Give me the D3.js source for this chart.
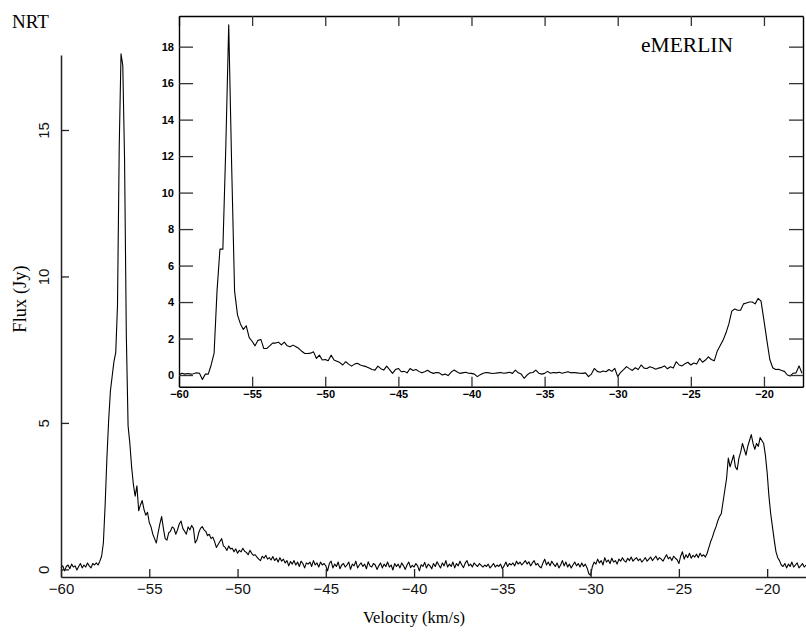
<!DOCTYPE html>
<html>
<head>
<meta charset="utf-8">
<script src="https://cdn.jsdelivr.net/npm/d3@7"></script>
<style>
  body { margin: 0; background: #fff; }
  svg { display: block; }
</style>
</head>
<body>
<div id="chart"></div>
<script>
// NRT spectrum: channels every 0.1 km/s starting at -60.0
const nrtStart = -60.0, nrtStep = 0.1;
const nrtFlux = [
  0.05,0.12,-0.05,0.10,0.15,0.02,0.18,0.08,0.12,-0.02,   // -60.0
  0.10,0.20,0.05,0.15,0.08,0.22,0.12,0.05,0.20,0.15,     // -59.0
  0.22,0.15,0.28,0.45,0.90,2.20,3.80,5.10,6.10,6.60,     // -58.0
  7.10,7.40,9.00,14.50,17.60,17.20,14.00,8.00,4.90,4.30, // -57.0
  3.50,2.90,2.50,2.85,2.00,2.20,2.35,2.05,1.85,1.95,     // -56.0
  1.60,1.45,1.20,1.05,0.90,1.25,1.55,1.80,1.40,1.05,     // -55.0
  1.00,1.25,1.30,1.45,1.40,1.20,1.35,1.55,1.65,1.40,     // -54.0
  1.30,1.20,1.45,1.35,1.50,1.40,0.90,1.00,1.25,1.40,     // -53.0
  1.46,1.35,1.30,1.15,1.20,1.05,1.10,0.95,0.75,0.85,     // -52.0
  0.95,1.05,0.80,0.75,0.65,0.80,0.70,0.72,0.60,0.70,     // -51.0
  0.55,0.65,0.60,0.72,0.62,0.58,0.50,0.65,0.55,0.48,     // -50.0
  0.50,0.42,0.35,0.30,0.45,0.38,0.48,0.35,0.40,0.32,     // -49.0
  0.44,0.30,0.38,0.25,0.40,0.28,0.35,0.22,0.30,0.12,     // -48.0
  0.27,0.18,0.30,0.15,0.25,0.10,0.28,0.20,0.05,0.22,     // -47.0
  0.18,0.25,0.10,0.30,0.15,0.22,0.08,0.25,0.15,0.20,     // -46.0
  0.12,-0.05,0.20,0.28,0.05,0.18,0.10,0.25,0.02,0.15,    // -45.0
  0.20,0.08,0.15,0.25,0.00,0.18,0.12,0.28,0.05,0.15,     // -44.0
  0.22,0.10,0.18,0.02,0.26,0.12,0.08,0.20,0.15,0.00,     // -43.0
  0.12,0.22,0.05,0.18,0.10,0.25,0.08,0.15,-0.02,0.20,    // -42.0
  0.10,0.18,0.05,0.22,0.12,0.00,0.15,0.25,0.06,0.14,     // -41.0
  0.08,0.20,0.12,-0.05,0.16,0.10,0.24,0.05,0.18,0.12,    // -40.0
  0.02,0.20,0.10,0.26,0.15,0.05,0.22,0.12,0.30,0.08,     // -39.0
  0.18,0.10,0.25,0.05,0.20,0.12,0.28,0.15,0.06,0.22,     // -38.0
  0.30,0.12,0.18,0.08,0.22,0.15,0.10,0.20,0.14,0.08,     // -37.0
  0.15,0.10,0.18,0.05,0.12,0.20,0.08,0.15,0.10,0.18,     // -36.0
  0.02,0.12,0.25,0.10,0.20,0.15,0.22,0.12,0.28,0.18,     // -35.0
  0.25,0.15,0.22,0.30,0.18,0.26,0.12,0.22,0.30,0.15,     // -34.0
  0.20,0.10,0.05,0.22,0.35,0.15,0.25,0.12,0.28,0.18,     // -33.0
  0.10,0.22,0.05,0.15,0.30,0.12,0.25,0.08,0.18,0.05,     // -32.0
  0.15,0.25,0.12,0.20,0.08,0.22,0.10,0.18,0.05,-0.15,    // -31.0
  -0.20,0.10,0.25,0.18,0.35,0.22,0.30,0.15,0.40,0.25,    // -30.0
  0.32,0.20,0.38,0.25,0.30,0.18,0.35,0.28,0.40,0.30,     // -29.0
  0.25,0.38,0.30,0.42,0.28,0.35,0.40,0.30,0.36,0.25,     // -28.0
  0.32,0.40,0.28,0.35,0.42,0.30,0.38,0.45,0.32,0.40,     // -27.0
  0.35,0.28,0.40,0.50,0.36,0.42,0.30,0.45,0.38,0.33,     // -26.0
  0.20,0.45,0.60,0.35,0.50,0.40,0.55,0.38,0.48,0.42,     // -25.0
  0.52,0.40,0.55,0.45,0.50,0.42,0.55,0.75,0.95,1.10,     // -24.0
  1.30,1.45,1.65,1.80,1.90,2.30,2.70,3.10,3.80,3.50,     // -23.0
  3.70,3.90,3.50,3.40,3.80,4.00,4.30,4.10,3.90,4.20,     // -22.0
  4.40,4.60,4.30,4.10,4.30,4.20,4.50,4.40,4.30,3.90,     // -21.0
  3.30,2.50,1.90,1.45,1.00,0.60,0.40,0.30,0.15,0.10,     // -20.0
  0.20,0.05,0.18,0.10,0.25,0.08,0.15,0.22,0.05,0.12,     // -19.0
  0.20,0.08,0.15                                         // -18.0
];

// eMERLIN spectrum: channels every 0.2 km/s starting at -60.0
const merlinStart = -60.0, merlinStep = 0.2;
const merlinFlux = [
  0.00,0.10,0.05,0.08,0.05,0.07,0.12,0.10,-0.24,0.05,    // -60.0
  0.05,0.55,1.20,4.60,6.90,6.90,12.50,19.20,11.50,4.60,  // -58.0
  3.30,2.80,2.50,2.70,2.05,1.85,1.60,1.90,1.95,1.45,     // -56.0
  1.45,1.60,1.75,1.75,1.80,1.65,1.80,1.60,1.55,1.64,     // -54.0
  1.55,1.45,1.30,1.18,1.18,1.20,1.27,0.91,1.09,0.82,     // -52.0
  0.85,0.78,1.09,0.82,0.75,0.68,0.55,0.73,0.60,0.49,     // -50.0
  0.60,0.64,0.55,0.50,0.46,0.38,0.30,0.27,0.49,0.35,     // -48.0
  0.27,0.49,0.30,0.09,0.30,0.36,0.18,0.20,0.12,0.36,     // -46.0
  0.25,0.30,0.20,0.12,0.18,0.26,0.15,0.09,0.14,0.12,     // -44.0
  0.00,0.05,-0.03,0.15,0.27,0.18,0.09,0.12,0.15,0.10,    // -42.0
  0.09,0.05,-0.09,0.02,0.10,0.14,0.12,0.08,0.10,0.12,    // -40.0
  0.14,0.10,0.12,0.15,0.09,0.27,0.12,0.05,-0.18,0.00,    // -38.0
  0.12,0.14,0.27,0.10,0.05,0.09,0.20,0.10,0.14,0.12,     // -36.0
  0.15,0.10,0.14,0.18,0.12,0.14,0.12,0.10,0.09,0.12,     // -34.0
  -0.09,0.05,0.36,0.20,0.15,0.22,0.18,0.30,0.20,0.36,    // -32.0
  -0.09,0.15,0.30,0.46,0.35,0.25,0.40,0.30,0.55,0.38,    // -30.0
  0.36,0.45,0.40,0.32,0.38,0.42,0.50,0.34,0.45,0.38,     // -28.0
  0.73,0.55,0.50,0.62,0.70,0.55,0.66,0.60,0.91,0.70,     // -26.0
  0.82,1.00,0.85,0.78,1.30,1.60,1.90,2.30,2.80,3.50,     // -24.0
  3.62,3.55,3.55,3.90,3.95,4.00,4.00,3.90,4.20,4.05,     // -22.0
  3.00,1.90,0.85,0.40,0.30,0.32,0.25,0.20,0.00,-0.05,    // -20.0
  0.10,0.12,0.50,0.10                                    // -18.0
];

const mainXTicks = [-60, -55, -50, -45, -40, -35, -30, -25, -20];
const mainYTicks = [0, 5, 10, 15];
const insetXTicks = [-60, -55, -50, -45, -40, -35, -30, -25, -20];
const insetYTicks = [0, 2, 4, 6, 8, 10, 12, 14, 16, 18];

const nrtData = nrtFlux.map((f, i) => ({ v: nrtStart + i * nrtStep, f: f }));
const merlinData = merlinFlux.map((f, i) => ({ v: merlinStart + i * merlinStep, f: f }));

const width = 806, height = 635;

const svg = d3.select("#chart")
  .append("svg")
  .attr("width", width)
  .attr("height", height);

svg.append("rect").attr("width", width).attr("height", height).attr("fill", "#fff");

// ---- main (NRT) panel ----
const x = d3.scaleLinear().domain([-60, -17.8]).range([61, 806]);
const y = d3.scaleLinear().domain([-0.26, 17.56]).range([577, 55]);

const main = svg.append("g");

main.append("path")
  .datum(nrtData)
  .attr("fill", "none")
  .attr("stroke", "#000")
  .attr("stroke-width", 1.1)
  .attr("stroke-linejoin", "round")
  .attr("d", d3.line().x(d => x(d.v)).y(d => y(d.f)));

const xAxis = main.append("g")
  .attr("transform", `translate(0,${y.range()[0]})`)
  .call(d3.axisBottom(x).tickValues(mainXTicks).tickSizeInner(-8).tickSizeOuter(0).tickPadding(6)
    .tickFormat(d => d3.format("")(d).replace("-", "\u2212")));

const yAxis = main.append("g")
  .attr("transform", `translate(${x.range()[0]},0)`)
  .call(d3.axisLeft(y).tickValues(mainYTicks).tickSizeInner(-8).tickSizeOuter(0));

yAxis.selectAll(".tick text")
  .attr("x", null).attr("dy", null)
  .attr("text-anchor", "middle")
  .attr("transform", "translate(-12,0) rotate(-90)");

[xAxis, yAxis].forEach(a => {
  a.select(".domain").attr("stroke", "#222").attr("stroke-width", 1.5);
  a.selectAll(".tick line").attr("stroke", "#222").attr("stroke-width", 1.3);
  a.selectAll(".tick text")
    .attr("fill", "#111")
    .style("font-family", "'Liberation Sans', Arial, sans-serif")
    .style("font-size", "15px");
});

main.append("text")
  .attr("x", 12).attr("y", 28)
  .style("font-family", "'Liberation Serif', 'Times New Roman', serif")
  .style("font-size", "19px")
  .text("NRT");

main.append("text")
  .attr("transform", "translate(26,299) rotate(-90)")
  .attr("text-anchor", "middle")
  .style("font-family", "'Liberation Serif', 'Times New Roman', serif")
  .style("font-size", "18.5px")
  .text("Flux (Jy)");

main.append("text")
  .attr("x", 414).attr("y", 623)
  .attr("text-anchor", "middle")
  .style("font-family", "'Liberation Serif', 'Times New Roman', serif")
  .style("font-size", "16.5px")
  .text("Velocity (km/s)");

// ---- inset (eMERLIN) panel ----
const ix = d3.scaleLinear().domain([-60, -17.33]).range([179, 803]);
const iy = d3.scaleLinear().domain([-0.64, 19.68]).range([386.7, 16]);

const inset = svg.append("g");

inset.append("rect")
  .attr("x", ix.range()[0]).attr("y", iy.range()[1])
  .attr("width", ix.range()[1] - ix.range()[0])
  .attr("height", iy.range()[0] - iy.range()[1])
  .attr("fill", "#fff");

inset.append("path")
  .datum(merlinData)
  .attr("fill", "none")
  .attr("stroke", "#000")
  .attr("stroke-width", 1.1)
  .attr("stroke-linejoin", "round")
  .attr("d", d3.line().x(d => ix(d.v)).y(d => iy(d.f)));

const boldFont = "'Liberation Sans', Arial, Helvetica, sans-serif";

const ixBottom = inset.append("g")
  .attr("transform", `translate(0,${iy.range()[0]})`)
  .call(d3.axisBottom(ix).tickValues(insetXTicks).tickSizeInner(-10).tickSizeOuter(0).tickPadding(4));

const ixTop = inset.append("g")
  .attr("transform", `translate(0,${iy.range()[1]})`)
  .call(d3.axisTop(ix).tickValues(insetXTicks).tickSizeInner(-10).tickSizeOuter(0).tickFormat(""));

const iyLeft = inset.append("g")
  .attr("transform", `translate(${ix.range()[0]},0)`)
  .call(d3.axisLeft(iy).tickValues(insetYTicks).tickSizeInner(-14).tickSizeOuter(0).tickPadding(5));

const iyRight = inset.append("g")
  .attr("transform", `translate(${ix.range()[1]},0)`)
  .call(d3.axisRight(iy).tickValues(insetYTicks).tickSizeInner(-14).tickSizeOuter(0).tickFormat(""));

[ixBottom, ixTop, iyLeft, iyRight].forEach(a => {
  a.select(".domain").attr("stroke", "#000").attr("stroke-width", 1.4);
  a.selectAll(".tick line").attr("stroke", "#333").attr("stroke-width", 1.3);
  a.selectAll(".tick text")
    .attr("fill", "#000")
    .style("font-family", boldFont)
    .style("font-weight", "bold")
    .style("font-size", "11px");
});

inset.append("text")
  .attr("x", 641).attr("y", 52)
  .style("font-family", "'Liberation Serif', 'Times New Roman', serif")
  .style("font-size", "21.5px")
  .text("eMERLIN");
</script>
</body>
</html>
